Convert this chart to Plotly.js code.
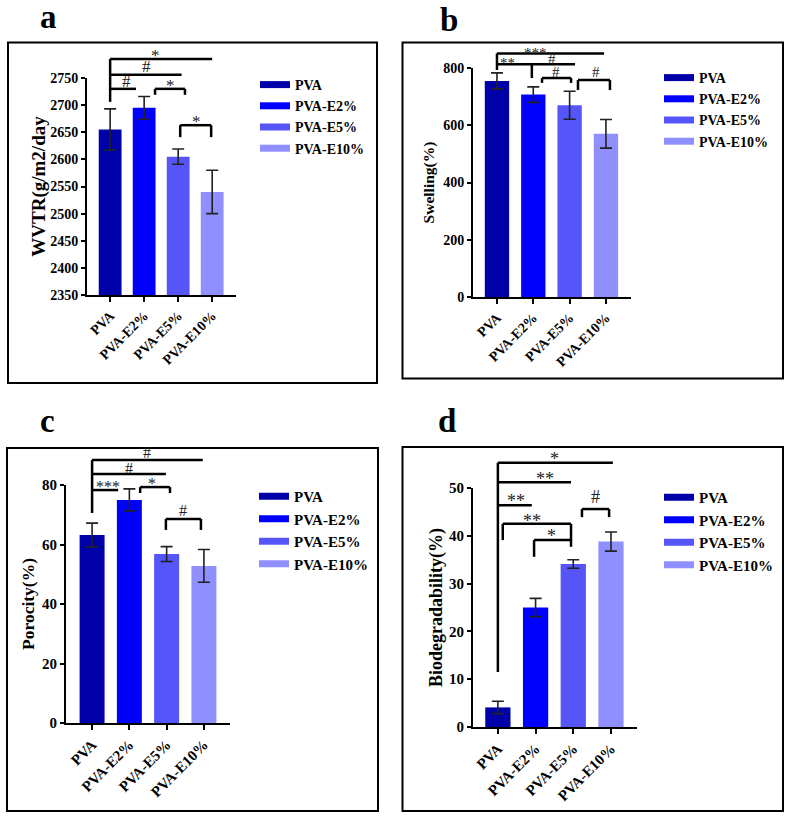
<!DOCTYPE html>
<html>
<head>
<meta charset="utf-8">
<script src="https://cdn.plot.ly/plotly-3.0.1.min.js"></script>
<style>
html,body{margin:0;padding:0;background:#fff;}
#chart{width:789px;height:819px;}
</style>
</head>
<body>
<div id="chart"></div>
<script>
// ---------------- DATA ----------------
const categories = ['PVA', 'PVA-E2%', 'PVA-E5%', 'PVA-E10%'];
const barColors = ['#0000A8', '#0000FF', '#5555FA', '#8F8FFF'];

const wvtrMean = [2655, 2695, 2605, 2540];
const wvtrErr = [38, 21, 14, 40];
const swellingMean = [755, 707, 670, 570];
const swellingErr = [28, 27, 49, 50];
const porosityMean = [63.2, 75, 56.8, 52.8];
const porosityErr = [4, 3.7, 2.5, 5.5];
const biodegMean = [4.1, 25, 34.1, 38.8];
const biodegErr = [1.3, 1.9, 0.9, 2.0];

const wvtrTicks = [2350, 2400, 2450, 2500, 2550, 2600, 2650, 2700, 2750];
const swellingTicks = [0, 200, 400, 600, 800];
const porosityTicks = [0, 20, 40, 60, 80];
const biodegTicks = [0, 10, 20, 30, 40, 50];

const panelLetters = ['a', 'b', 'c', 'd'];
const yTitles = ['WVTR(g/m2/day', 'Swelling(%)', 'Porocity(%)', 'Biodegradability(%)'];

// significance marks per panel
const sigA = ['*', '#', '#', '*', '*'];
const sigB = ['***', '**', '#', '#', '#'];
const sigC = ['#', '#', '***', '*', '#'];
const sigD = ['*', '**', '**', '**', '*', '#'];

// ---------------- LAYOUT HELPERS ----------------
const W = 789, H = 819;
const px = v => v / W;
const py = v => 1 - v / H;
const SERIF = 'Liberation Serif, Times New Roman, serif';

const panels = [
  {mean: wvtrMean, err: wvtrErr, ticks: wvtrTicks, sig: sigA, sigSize: 17,
   xDom: [87, 236], yDom: [295, 78], xRange: [-0.68, 3.7],
   tickSize: 14, titleSize: 19, standoff: 0, legX: 255, legY: 69, legSize: 14,
   frame: [8, 42.5, 377, 383], letter: [48, 17],
   brackets: [
     [[0, 2706], [0, 2785], [3, 2785]],
     [[0, 2756], [2.1, 2756]],
     [[0, 2730], [0.76, 2730]],
     [[1.32, 2719], [1.32, 2730], [2.2, 2730], [2.2, 2719]],
     [[2.06, 2641], [2.06, 2663], [2.97, 2663], [2.97, 2641]]
   ],
   labels: [[1.32, 2798], [1.06, 2772], [0.47, 2743], [1.76, 2744], [2.53, 2678]]},
  {mean: swellingMean, err: swellingErr, ticks: swellingTicks, sig: sigB, sigSize: 15,
   xDom: [473, 631], yDom: [297, 68], xRange: [-0.66, 3.69],
   tickSize: 14, titleSize: 15.5, standoff: 5, legX: 659, legY: 62, legSize: 14,
   frame: [402.5, 42.5, 783, 378.5], letter: [449, 20],
   brackets: [
     [[0, 793], [0, 851], [2.95, 851]],
     [[0, 813], [2.15, 813]],
     [[0.96, 813], [0.96, 765]],
     [[1.24, 748], [1.24, 765], [2.04, 765], [2.04, 748]],
     [[2.23, 723], [2.23, 758], [3.11, 758], [3.11, 723]]
   ],
   labels: [[1.05, 868], [0.3, 833], [1.52, 831], [1.62, 786], [2.72, 786]]},
  {mean: porosityMean, err: porosityErr, ticks: porosityTicks, sig: sigC, sigSize: 16,
   xDom: [66, 230], yDom: [723, 485], xRange: [-0.70, 3.70],
   tickSize: 15, titleSize: 17.5, standoff: 3, legX: 254, legY: 480, legSize: 15,
   frame: [7, 448, 378, 811], letter: [47, 421],
   brackets: [
     [[0, 70.6], [0, 88.4], [2.97, 88.4]],
     [[0, 83.7], [1.98, 83.7]],
     [[0, 78.3], [0.70, 78.3]],
     [[1.29, 77.3], [1.29, 79.3], [2.09, 79.3], [2.09, 77.3]],
     [[1.98, 64.9], [1.98, 68.6], [2.92, 68.6], [2.92, 64.9]]
   ],
   labels: [[1.47, 90.8], [0.99, 85.7], [0.43, 80.7], [1.61, 81.7], [2.44, 71.3]]},
  {mean: biodegMean, err: biodegErr, ticks: biodegTicks, sig: sigD, sigSize: 18,
   xDom: [473, 637], yDom: [727, 488], xRange: [-0.66, 3.69],
   tickSize: 15, titleSize: 18, standoff: 2, legX: 659, legY: 481, legSize: 15,
   frame: [402.5, 447, 783, 811], letter: [447, 421],
   brackets: [
     [[0, 11.5], [0, 55.3], [3.05, 55.3]],
     [[0, 51.2], [1.94, 51.2]],
     [[0, 46.4], [0.90, 46.4]],
     [[0.13, 39.1], [0.13, 42.5], [1.94, 42.5], [1.94, 37.7]],
     [[0.96, 35.6], [0.96, 39.1], [1.94, 39.1]],
     [[2.23, 43.9], [2.23, 45.6], [2.95, 45.6], [2.95, 43.9]]
   ],
   labels: [[1.51, 56.9], [1.25, 52.7], [0.48, 48.1], [0.9, 43.9], [1.41, 40.8], [2.6, 48.1]]}
];

const data = [];
const layout = {
  width: W, height: H, autosize: false,
  margin: {l: 0, r: 0, t: 0, b: 0, pad: 0},
  paper_bgcolor: '#ffffff', plot_bgcolor: '#ffffff',
  barmode: 'overlay', showlegend: true,
  shapes: [], annotations: [],
  font: {family: SERIF, color: '#000'}
};

panels.forEach((p, i) => {
  const n = i === 0 ? '' : String(i + 1);
  const xa = 'x' + n, ya = 'y' + n;
  const legName = 'legend' + n;
  const r0 = p.ticks[0], r1 = p.ticks[p.ticks.length - 1];
  const dom = v => (v - r0) / (r1 - r0);

  // bars
  categories.forEach((c, k) => {
    data.push({
      type: 'bar', x: [c], y: [p.mean[k]], width: 0.67,
      marker: {color: barColors[k], line: {width: 0}},
      error_y: {type: 'data', array: [p.err[k]], visible: true, color: '#222', thickness: 1.6, width: 6},
      xaxis: xa, yaxis: ya, showlegend: false, hoverinfo: 'skip'
    });
  });
  // legend entries
  categories.forEach((c, k) => {
    data.push({
      type: 'scatter', mode: 'lines', x: [null], y: [null], name: c,
      line: {color: barColors[k], width: 7},
      xaxis: xa, yaxis: ya, legend: legName, showlegend: true, hoverinfo: 'skip'
    });
  });

  layout['xaxis' + n] = {
    domain: [px(p.xDom[0]), px(p.xDom[1])], anchor: ya,
    type: 'category', categoryorder: 'array', categoryarray: categories,
    range: p.xRange, showline: true, linewidth: 2, linecolor: '#000',
    ticks: 'outside', ticklen: 5, tickwidth: 2, tickcolor: '#000',
    tickangle: -45, showgrid: false, zeroline: false, fixedrange: true,
    tickfont: {family: SERIF, size: p.tickSize, color: '#000', weight: 'bold'}
  };
  layout['yaxis' + n] = {
    domain: [py(p.yDom[0]), py(p.yDom[1])], anchor: xa,
    range: [r0, r1], tickvals: p.ticks, ticktext: p.ticks.map(String),
    showline: true, linewidth: 2, linecolor: '#000',
    ticks: 'outside', ticklen: 4, tickwidth: 2, tickcolor: '#000',
    showgrid: false, zeroline: false, fixedrange: true,
    tickfont: {family: SERIF, size: p.tickSize, color: '#000', weight: 'bold'},
    title: {text: yTitles[i], standoff: p.standoff,
            font: {family: SERIF, size: p.titleSize, color: '#000', weight: 'bold'}}
  };
  layout[legName] = {
    x: px(p.legX), y: py(p.legY), xanchor: 'left', yanchor: 'top',
    bgcolor: 'rgba(0,0,0,0)', borderwidth: 0, traceorder: 'normal',
    font: {family: SERIF, size: p.legSize, color: '#000', weight: 'bold'}
  };

  // frame
  layout.shapes.push({type: 'rect', xref: 'paper', yref: 'paper',
    x0: px(p.frame[0]), x1: px(p.frame[2]), y0: py(p.frame[1]), y1: py(p.frame[3]),
    line: {color: '#000', width: 2}, fillcolor: 'rgba(0,0,0,0)'});

  // significance brackets
  p.brackets.forEach(poly => {
    for (let j = 0; j < poly.length - 1; j++) {
      layout.shapes.push({type: 'line', xref: xa, yref: ya + ' domain',
        x0: poly[j][0], y0: dom(poly[j][1]), x1: poly[j + 1][0], y1: dom(poly[j + 1][1]),
        line: {color: '#000', width: 2.5}});
    }
  });
  p.labels.forEach((lb, j) => {
    const txt = p.sig[j];
    const star = txt.indexOf('*') >= 0;
    layout.annotations.push({xref: xa, yref: ya + ' domain', x: lb[0], y: dom(lb[1]),
      text: txt, showarrow: false, xanchor: 'center', yanchor: 'middle',
      yshift: star ? -4 : 0,
      font: {family: SERIF, size: p.sigSize, color: '#222'}});
  });

  // panel letter
  layout.annotations.push({xref: 'paper', yref: 'paper', x: px(p.letter[0]), y: py(p.letter[1]),
    text: panelLetters[i], showarrow: false, xanchor: 'center', yanchor: 'middle',
    font: {family: SERIF, size: 33, color: '#000', weight: 'bold'}});
});

Plotly.newPlot('chart', data, layout, {staticPlot: true, displayModeBar: false});
</script>
</body>
</html>
